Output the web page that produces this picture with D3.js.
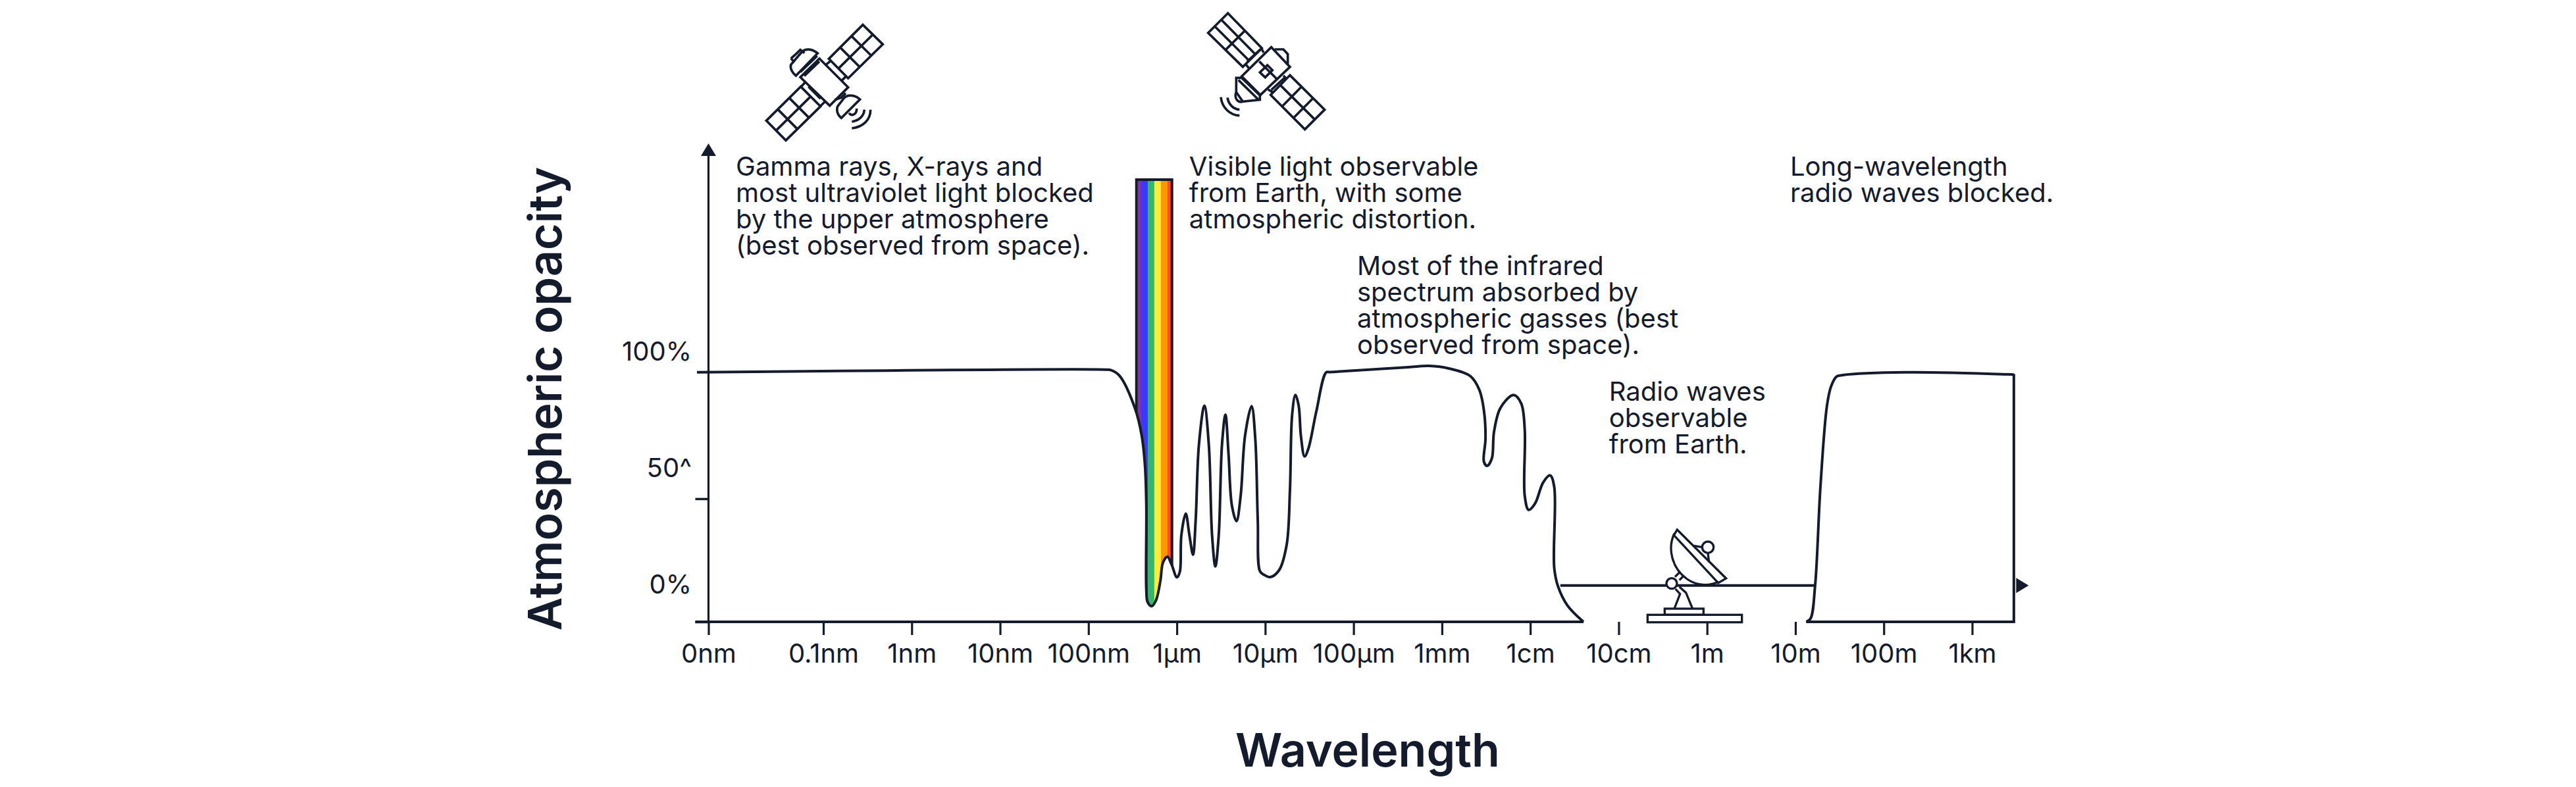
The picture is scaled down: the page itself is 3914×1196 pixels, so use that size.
<!DOCTYPE html>
<html><head><meta charset="utf-8">
<script src="https://cdn.jsdelivr.net/npm/d3@7"></script>
<style>
html,body{margin:0;padding:0;background:#fff}
svg{display:block}
text{font-family:Inter,"Noto Sans",sans-serif;fill:#141b2d}
</style></head><body>
<svg id="chart" width="3914" height="1196"></svg>
<script>
// wavelength expressed as log10(metres), opacity in percent
const tickPositions = [-11.3,-10,-9,-8,-7,-6,-5,-4,-3,-2,-1,0,1,2,3];
const tickLabels = ["0nm","0.1nm","1nm","10nm","100nm","1µm","10µm","100µm","1mm","1cm","10cm","1m","10m","100m","1km"];
const blockedX = [-11.43,-6.806,-6.746,-6.648,-6.472,-6.397,-6.360,-6.345,-6.345,-6.330,-6.285,-6.236,-6.186,-6.157,-6.107,-6.060,-5.999,-5.966,-5.949,-5.899,-5.857,-5.817,-5.787,-5.750,-5.688,-5.638,-5.601,-5.564,-5.526,-5.489,-5.450,-5.415,-5.377,-5.325,-5.278,-5.228,-5.154,-5.112,-5.084,-5.060,-5.017,-4.943,-4.844,-4.757,-4.720,-4.695,-4.658,-4.621,-4.596,-4.554,-4.509,-4.422,-4.310,-4.265,-3.379,-3.148,-2.913,-2.679,-2.575,-2.522,-2.507,-2.525,-2.489,-2.435,-2.411,-2.338,-2.189,-2.103,-2.063,-2.063,-2.019,-1.946,-1.855,-1.776,-1.729,-1.729,-1.685,-1.580,-1.398];
const blockedY = [100.3,101.4,101.2,98.9,85.7,74.8,62.7,46.8,12.8,7.9,6.3,8.6,16.5,23.8,26.2,23.1,17.9,20.1,34.7,43.5,34.7,27.0,40.7,71.2,86.9,71.2,34.7,22.3,34.7,71.2,83.3,67.5,46.8,40.5,50.5,74.8,86.7,73.5,40.7,20.4,19.0,18.0,20.7,31.0,52.9,83.3,91.2,86.9,74.8,66.5,69.9,84.5,100.3,100.4,102.4,102.9,101.8,98.8,93.1,84.2,73.6,64.4,62.7,65.7,76.3,86.0,91.2,87.8,77.2,50.7,45.0,47.6,56.0,58.9,54.2,21.6,14.1,6.6,0];
const longWaveX = [1.122,1.171,1.223,1.283,1.357,1.405,1.465,1.536,2.247,3.472];
const longWaveY = [0,1.3,14.6,54.2,86.9,94.8,98.6,99.2,100.3,99.4];
const radioLevel = 14.6;
const radioSpan = [-1.66,1.223];
const yTickValues = [0,49.5];
const yLabels = ["0%","50^","100%"];
const yLabelAt = [11.5,58.2,105];
const spectrumEdges = [-6.445,-6.403,-6.329,-6.255,-6.180,-6.106,-6.060];
const spectrumColors = ["#8a2bb8","#3838ff","#33b86a","#ffeb3b","#ff9800","#f94c36"];
const spectrumFrame = [-6.457,-6.055];
const spectrumTop = 177.8;
const notes = [
 {at:[-10.99,179.3],lines:["Gamma rays, X-rays and","most ultraviolet light blocked","by the upper atmosphere","(best observed from space)."]},
 {at:[-5.86,179.3],lines:["Visible light observable","from Earth, with some","atmospheric distortion."]},
 {at:[-3.96,139.4],lines:["Most of the infrared","spectrum absorbed by","atmospheric gasses (best","observed from space)."]},
 {at:[-1.11,89.0],lines:["Radio waves","observable","from Earth."]},
 {at:[0.94,179.3],lines:["Long-wavelength","radio waves blocked."]}
];

const ink = "#141b2d", SW = 4, LABEL_W = 400;
const svg = d3.select("#chart");
const x = d3.scaleLinear().domain([-10,3]).range([1251,2996.5]);
const y = d3.scaleLinear().domain([0,100]).range([945,567]);
const line = d3.line().x(d=>x(d[0])).y(d=>y(d[1])).curve(d3.curveCatmullRom.alpha(0.5));
const blocked = blockedX.map((v,i)=>[v,blockedY[i]]);
const longWave = longWaveX.map((v,i)=>[v,longWaveY[i]]);

// spectrum, clipped to the part above the opacity curve
const clipArea = d3.area().x(d=>x(d[0])).y0(y(spectrumTop)-5).y1(d=>y(d[1])).curve(d3.curveCatmullRom.alpha(0.5));
svg.append("clipPath").attr("id","aboveCurve").append("path")
  .attr("d",clipArea(blocked.filter(d=>d[0]>-6.7&&d[0]<-5.9)));
const spec = svg.append("g").attr("clip-path","url(#aboveCurve)");
spec.selectAll("rect").data(spectrumColors).join("rect")
  .attr("x",(d,i)=>x(spectrumEdges[i])).attr("width",(d,i)=>x(spectrumEdges[i+1])-x(spectrumEdges[i])+0.3)
  .attr("y",y(spectrumTop)).attr("height",y(0)-y(spectrumTop)).attr("fill",d=>d);
spec.append("path").attr("fill","none").attr("stroke",ink).attr("stroke-width",SW)
  .attr("d",`M${x(spectrumFrame[0])},${y(0)}V${y(spectrumTop)}H${x(spectrumFrame[1])}V${y(0)}`);

// axes
const xAxis = d3.axisBottom(x).tickValues(tickPositions).tickSize(20).tickPadding(0)
  .tickFormat((d,i)=>tickLabels[i]);
const gx = svg.append("g").attr("transform",`translate(0,${y(0)})`).call(xAxis);
gx.select(".domain").remove();
gx.selectAll(".tick line").attr("stroke",ink).attr("stroke-width",3.2);
gx.selectAll(".tick text").attr("y",62).attr("dy",0).attr("font-size",40).attr("font-weight",LABEL_W).attr("font-family",'Inter,"Noto Sans",sans-serif').attr("fill",ink);
const gy = svg.append("g").attr("transform",`translate(${x(-11.3)},0)`)
  .call(d3.axisLeft(y).tickValues(yTickValues).tickSize(20).tickFormat(""));
gy.select(".domain").remove();
gy.selectAll(".tick line").attr("stroke",ink).attr("stroke-width",3.5);
const ax = svg.append("g").attr("stroke",ink).attr("fill","none");
ax.append("line").attr("x1",x(-11.3)).attr("x2",x(-11.3)).attr("y1",y(0)).attr("y2",232).attr("stroke-width",3.2);
ax.append("line").attr("x1",x(-11.3)-20).attr("x2",x(-1.398)).attr("y1",y(0)).attr("y2",y(0)).attr("stroke-width",SW);
ax.append("line").attr("x1",x(1.122)).attr("x2",x(3.472)+2).attr("y1",y(0)).attr("y2",y(0)).attr("stroke-width",SW);
ax.append("line").attr("x1",x(radioSpan[0])).attr("x2",x(radioSpan[1])).attr("y1",y(radioLevel)).attr("y2",y(radioLevel)).attr("stroke-width",SW);
svg.append("path").attr("fill",ink).attr("d",`M${x(-11.3)},218l11.5,19h-23z`);
svg.append("path").attr("fill",ink).attr("d",`M${x(3.472)+3.5},${y(radioLevel)-11.5}l19,11.5l-19,11.5z`);

// opacity curves
svg.append("path").attr("fill","none").attr("stroke",ink).attr("stroke-width",SW).attr("stroke-linejoin","round").attr("d",line(blocked));
svg.append("path").attr("fill","none").attr("stroke",ink).attr("stroke-width",SW).attr("stroke-linejoin","round").attr("d",line(longWave));
svg.append("path").attr("fill","none").attr("stroke",ink).attr("stroke-width",SW)
  .attr("d",`M${x(longWaveX[longWaveX.length-1])},${y(longWaveY[longWaveY.length-1])-1}V${y(0)}`);

// y labels
svg.selectAll("text.yl").data(yLabels).join("text").attr("class","yl")
  .attr("x",1051).attr("y",(d,i)=>y(yLabelAt[i])).attr("text-anchor","end")
  .attr("font-size",40).attr("font-weight",LABEL_W).text(d=>d);

// notes
notes.forEach(n=>{
  const t = svg.append("text").attr("font-size",40).attr("font-weight",LABEL_W);
  n.lines.forEach((l,i)=>t.append("tspan").attr("x",x(n.at[0])).attr("y",y(n.at[1])+i*40).text(l));
});

// titles
svg.append("text").attr("x",2078).attr("y",1165).attr("text-anchor","middle").attr("font-size",70).attr("font-weight",600).text("Wavelength");
svg.append("text").attr("transform","translate(853,606) rotate(-90)").attr("text-anchor","middle").attr("font-size",70).attr("font-weight",600).text("Atmospheric opacity");

// icons (drawn in their own local units, 3 units = 1px)
function panel(g,A,B,C,D){
  const L=(p,q,t)=>[p[0]+(q[0]-p[0])*t,p[1]+(q[1]-p[1])*t];
  g.append("path").attr("d",`M${A}L${B}L${C}L${D}Z`);
  const s=[[L(A,D,.5),L(B,C,.5)],[L(A,B,1/3),L(D,C,1/3)],[L(A,B,2/3),L(D,C,2/3)]];
  s.forEach(q=>g.append("path").attr("d",`M${q[0]}L${q[1]}`));
}
const icon=(tx,ty)=>svg.append("g").attr("transform",`translate(${tx},${ty}) scale(${1/3})`)
  .attr("fill","none").attr("stroke",ink).attr("stroke-width",11).attr("stroke-linejoin","miter");
const s1=icon(1130,10);
panel(s1,[388,238],[543,83],[634,172],[476,327]);
panel(s1,[103,520],[260,365],[350,455],[192,610]);
s1.append("path").attr("d","M258,322L345,237L476,368L392,452Z");
s1.append("path").attr("d","M375,265L397,247M447,337L468,316M280,345L262,365M372,432L350,453M295,365L350,420");
s1.append("path").attr("d","M337,213C310,190 280,190 262,210L215,265C210,285 225,305 238,315Z");
s1.append("path").attr("d","M240,215L258,197L277,212M215,237L240,215M215,237L232,253");
s1.append("path").attr("d","M258,298L335,225M276,316L345,250");
s1.append("path").attr("d","M530,423C505,400 470,400 455,420L428,455C420,480 430,495 445,508Z");
s1.append("path").attr("d","M480,485C490,500 515,495 515,465M415,425L445,415L465,395");
s1.append("path").attr("d","M493,525C525,520 548,500 550,470M493,555C540,550 578,520 578,470");
const s2=icon(1820,5);
panel(s2,[47,135],[137,45],[292,205],[205,290]);
panel(s2,[420,328],[578,485],[488,575],[332,418]);
s2.append("path").attr("d","M335,200L420,290L285,418L200,333Z");
s2.append("path").attr("d","M292,210L300,225M220,280L232,295M390,330L405,345M320,393L340,405M225,265L285,210M335,395L395,340");
s2.append("path").attr("d","M317,282L340,305L307,338L283,315Z");
s2.append("path").attr("d","M280,265L360,345");
s2.append("path").attr("d","M350,210H390L410,232V275");
s2.append("path").attr("d","M175,340H200L283,420V440L205,448L175,405Z");
s2.append("path").attr("d","M185,350L275,438");
s2.append("path").attr("d","M175,405C165,430 180,455 205,448");
s2.append("path").attr("d","M135,430C140,460 160,482 190,485M105,428C110,475 145,510 190,512");
const dish=icon(2480,780).attr("stroke-width",10);
dish.append("path").attr("d","M205,75L428,297L392,318L190,100Z");
dish.append("path").attr("d","M192,92C160,160 180,250 250,300C300,335 360,330 392,312");
dish.append("path").attr("d","M280,148L320,155M345,182L350,222");
dish.append("circle").attr("cx",345).attr("cy",155).attr("r",26).attr("fill","#fff");
dish.append("path").attr("d","M195,290L215,270M215,305L235,285");
dish.append("circle").attr("cx",180).attr("cy",320).attr("r",24).attr("fill","#fff");
dish.append("path").attr("d","M197,345L218,368L192,435M215,335L245,362L275,435");
dish.append("rect").attr("x",148).attr("y",435).attr("width",177).attr("height",28).attr("fill","#fff");
dish.append("rect").attr("x",70).attr("y",463).attr("width",430).attr("height",34).attr("fill","#fff");
</script>
</body></html>
